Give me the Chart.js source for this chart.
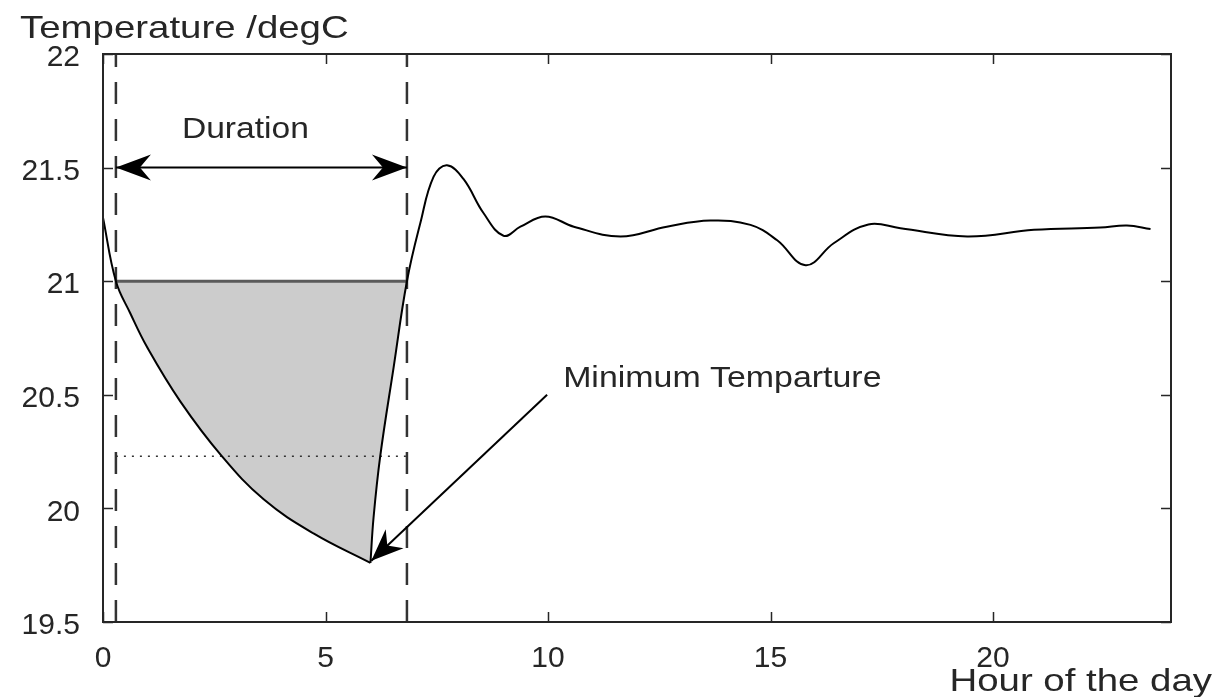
<!DOCTYPE html>
<html>
<head>
<meta charset="utf-8">
<script src="https://cdn.jsdelivr.net/npm/chart.js@4/dist/chart.umd.min.js"></script>
<style>
  html, body { margin: 0; padding: 0; background: #ffffff; }
  #wrap { width: 1217px; height: 697px; }
</style>
</head>
<body>
<div id="wrap"><canvas id="c" width="1217" height="697"></canvas></div>
<script>
// ---------- data ----------
// cooling phase: from midnight down to the minimum temperature
const hoursCooling = [0, 0.29, 0.61, 0.99, 1.74, 2.67, 3.61, 4.73, 6.01];
const tempCooling  = [21.28, 21.0, 20.86, 20.71, 20.47, 20.23, 20.04, 19.89, 19.76];

// recovery phase: from the minimum to the end of the day
const hoursRecovery = [6.01, 6.08, 6.23, 6.53, 6.83, 7.13, 7.43, 7.73, 8.1, 8.55, 9.0, 9.38, 9.94, 10.58, 11.63, 12.67, 13.65, 14.55, 15.15, 15.79, 16.42, 17.2, 17.92, 19.42, 20.92, 22.41, 23.01, 23.54];
const tempRecovery  = [19.76, 19.96, 20.23, 20.62, 21.0, 21.255, 21.46, 21.51, 21.45, 21.30, 21.20, 21.24, 21.285, 21.24, 21.197, 21.24, 21.267, 21.248, 21.18, 21.07, 21.167, 21.25, 21.233, 21.197, 21.226, 21.236, 21.245, 21.23];

const xTickValues = [0, 5, 10, 15, 20];
const yTickValues = [19.5, 20, 20.5, 21, 21.5, 22];

const thresholdTemp = 21;        // setpoint line
const durationStart = 0.29;      // hour where temp drops below threshold
const durationEnd = 6.83;        // hour where temp recovers
const dottedLevel = 20.23;       // dotted reference level
const durationArrowTemp = 21.5;
const minPoint = [6.03, 19.77];
const minArrowFrom = [9.98, 20.50];

const xRange = [0, 24];
const yRange = [19.5, 22];

// ---------- helpers ----------
const toXY = (xs, ys) => xs.map((x, i) => ({ x: x, y: ys[i] }));
const FONT = "'Liberation Sans', Arial, sans-serif";
const INK = '#262626';
const TENSION = 0.4;

// shaded region = part of the curve below the threshold (between the crossings)
const shadePoints = toXY(hoursCooling, tempCooling).filter(p => p.x >= durationStart)
  .concat(toXY(hoursRecovery, tempRecovery).filter(p => p.x <= durationEnd));

function arrowHead(ctx, tx, ty, fx, fy, len, halfW, inset) {
  const dx = fx - tx, dy = fy - ty;
  const d = Math.hypot(dx, dy);
  const ux = dx / d, uy = dy / d;
  const px = -uy, py = ux;
  ctx.beginPath();
  ctx.moveTo(tx, ty);
  ctx.lineTo(tx + ux * len + px * halfW, ty + uy * len + py * halfW);
  ctx.lineTo(tx + ux * (len - inset), ty + uy * (len - inset));
  ctx.lineTo(tx + ux * len - px * halfW, ty + uy * len - py * halfW);
  ctx.closePath();
  ctx.fill();
}

function stretchedText(ctx, text, x, y, align, sx) {
  ctx.save();
  ctx.translate(x, y);
  ctx.scale(sx, 1);
  ctx.textAlign = align;
  ctx.fillText(text, 0, 0);
  ctx.restore();
}

const decorPlugin = {
  id: 'decor',
  afterDatasetsDraw(chart) {
    const ctx = chart.ctx;
    const a = chart.chartArea;
    const xs = chart.scales.x, ys = chart.scales.y;
    ctx.save();
    // frame
    ctx.strokeStyle = INK;
    ctx.lineWidth = 2;
    ctx.strokeRect(a.left, a.top, a.right - a.left, a.bottom - a.top);
    // inward ticks on all four sides
    const tl = 10;
    ctx.beginPath();
    xs.ticks.forEach(t => {
      const px = Math.round(xs.getPixelForValue(t.value)) + 0.5;
      ctx.moveTo(px, a.bottom); ctx.lineTo(px, a.bottom - tl);
      ctx.moveTo(px, a.top); ctx.lineTo(px, a.top + tl);
    });
    ys.ticks.forEach(t => {
      const py = Math.round(ys.getPixelForValue(t.value)) + 0.5;
      ctx.moveTo(a.left, py); ctx.lineTo(a.left + tl, py);
      ctx.moveTo(a.right, py); ctx.lineTo(a.right - tl, py);
    });
    ctx.lineWidth = 1.5;
    ctx.stroke();

    // arrow heads
    ctx.fillStyle = '#000';
    const dy = ys.getPixelForValue(durationArrowTemp);
    const dl = xs.getPixelForValue(durationStart);
    const dr = xs.getPixelForValue(durationEnd);
    arrowHead(ctx, dl, dy, dr, dy, 35, 13, 11);
    arrowHead(ctx, dr, dy, dl, dy, 35, 13, 11);
    const mx = xs.getPixelForValue(minPoint[0]), my = ys.getPixelForValue(minPoint[1]);
    const fx = xs.getPixelForValue(minArrowFrom[0]), fy = ys.getPixelForValue(minArrowFrom[1]);
    arrowHead(ctx, mx, my, fx, fy, 32, 13, 10);

    // annotation texts
    ctx.fillStyle = INK;
    ctx.textBaseline = 'alphabetic';
    ctx.font = '30px ' + FONT;
    stretchedText(ctx, 'Duration', xs.getPixelForValue(3.2), ys.getPixelForValue(21.63), 'center', 1.12);
    stretchedText(ctx, 'Minimum Temparture', xs.getPixelForValue(10.34), ys.getPixelForValue(20.536), 'left', 1.13);

    // axis titles
    ctx.font = '32px ' + FONT;
    stretchedText(ctx, 'Temperature /degC', 20, 38, 'left', 1.2);
    stretchedText(ctx, 'Hour of the day', 1212, 691, 'right', 1.2);
    ctx.restore();
  }
};

const lineDs = (data, extra) => Object.assign({
  data: data,
  borderColor: '#000',
  borderWidth: 2,
  pointRadius: 0,
  pointHoverRadius: 0,
  fill: false,
  tension: 0,
  order: 0
}, extra || {});

new Chart(document.getElementById('c'), {
  type: 'line',
  data: {
    datasets: [
      // shaded area below the threshold
      lineDs(shadePoints, { tension: TENSION, borderWidth: 0, borderColor: 'rgba(0,0,0,0)', backgroundColor: '#cccccc', fill: { value: thresholdTemp }, order: 20 }),
      // temperature curve
      lineDs(toXY(hoursCooling, tempCooling), { tension: TENSION, order: 2 }),
      lineDs(toXY(hoursRecovery, tempRecovery), { tension: TENSION, order: 2 }),
      // threshold line
      lineDs([{ x: durationStart, y: thresholdTemp }, { x: durationEnd, y: thresholdTemp }], { borderColor: '#5a5a5a', borderWidth: 3, order: 5 }),
      // dashed duration bounds
      lineDs([{ x: durationStart, y: yRange[0] }, { x: durationStart, y: yRange[1] }], { borderColor: '#333', borderWidth: 2.5, borderDash: [22, 15], order: 4 }),
      lineDs([{ x: durationEnd, y: yRange[0] }, { x: durationEnd, y: yRange[1] }], { borderColor: '#333', borderWidth: 2.5, borderDash: [22, 15], order: 4 }),
      // dotted level
      lineDs([{ x: durationStart, y: dottedLevel }, { x: durationEnd, y: dottedLevel }], { borderColor: '#333', borderWidth: 1.5, borderDash: [2, 6], order: 4 }),
      // arrow shafts
      lineDs([{ x: durationStart, y: durationArrowTemp }, { x: durationEnd, y: durationArrowTemp }], { borderWidth: 2, order: 1 }),
      lineDs([{ x: minArrowFrom[0], y: minArrowFrom[1] }, { x: minPoint[0], y: minPoint[1] }], { borderWidth: 2, order: 1 })
    ]
  },
  options: {
    responsive: false,
    animation: false,
    devicePixelRatio: 1,
    layout: { padding: { top: 54, right: 46, left: 0, bottom: 0 } },
    plugins: { legend: { display: false }, tooltip: { enabled: false } },
    scales: {
      x: {
        type: 'linear',
        min: xRange[0], max: xRange[1],
        grid: { display: false },
        border: { display: false },
        afterBuildTicks: s => { s.ticks = xTickValues.map(v => ({ value: v })); },
        afterFit: s => { s.height = 75; },
        ticks: { color: INK, padding: 11, font: { family: FONT, size: 30 }, maxRotation: 0, callback: v => String(v) }
      },
      y: {
        type: 'linear',
        min: yRange[0], max: yRange[1],
        grid: { display: false },
        border: { display: false },
        afterBuildTicks: s => { s.ticks = yTickValues.map(v => ({ value: v })); },
        afterFit: s => { s.width = 103; },
        ticks: { color: INK, padding: 15, labelOffset: 4, font: { family: FONT, size: 30 }, callback: v => String(v) }
      }
    }
  },
  plugins: [decorPlugin]
});
</script>
</body>
</html>
